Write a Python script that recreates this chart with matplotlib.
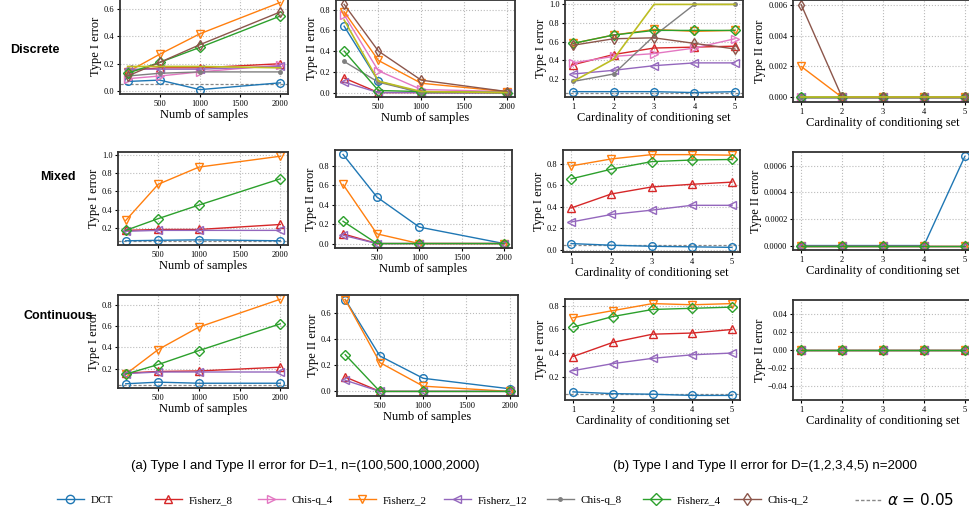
import numpy as np
import matplotlib
matplotlib.use("Agg")
import matplotlib.pyplot as plt
from matplotlib.lines import Line2D
from matplotlib.ticker import MultipleLocator

plt.rcParams['font.family'] = ['Liberation Serif', 'DejaVu Serif']
plt.rcParams['mathtext.fontset'] = 'dejavusans'

# x values
n_samples = [100, 500, 1000, 2000]
card = [1, 2, 3, 4, 5]
alpha = 0.05

# Discrete, vs number of samples
disc_t1_n = {
    'DCT':        [0.07, 0.08, 0.01, 0.06],
    'Fisherz_8':  [0.15, 0.17, 0.17, 0.20],
    'Chis-q_4':   [0.09, 0.11, 0.14, 0.19],
    'Fisherz_2':  [0.14, 0.27, 0.42, 0.65],
    'Fisherz_12': [0.16, 0.16, 0.16, 0.18],
    'Chis-q_8':   [0.11, 0.13, 0.14, 0.14],
    'Fisherz_4':  [0.13, 0.21, 0.32, 0.55],
    'Chis-q_2':   [0.11, 0.21, 0.34, 0.58],
    '_extra':     [0.18, 0.18, 0.18, 0.17],
}
disc_t2_n = {
    'DCT':        [0.64, 0.11, 0.00, 0.00],
    'Fisherz_8':  [0.14, 0.00, 0.00, 0.00],
    'Chis-q_4':   [0.75, 0.21, 0.03, 0.01],
    'Fisherz_2':  [0.78, 0.31, 0.09, 0.01],
    'Fisherz_12': [0.10, 0.00, 0.00, 0.00],
    'Chis-q_8':   [0.30, 0.10, 0.00, 0.00],
    'Fisherz_4':  [0.40, 0.02, 0.01, 0.00],
    'Chis-q_2':   [0.85, 0.40, 0.12, 0.01],
    '_extra':     [0.70, 0.11, 0.01, 0.00],
}
# Discrete, vs cardinality
disc_t1_c = {
    'DCT':        [0.06, 0.06, 0.06, 0.05, 0.06],
    'Fisherz_8':  [0.35, 0.46, 0.53, 0.54, 0.55],
    'Chis-q_4':   [0.37, 0.44, 0.47, 0.53, 0.63],
    'Fisherz_2':  [0.58, 0.67, 0.73, 0.71, 0.72],
    'Fisherz_12': [0.25, 0.29, 0.34, 0.37, 0.37],
    'Chis-q_8':   [0.17, 0.25, 0.66, 1.00, 1.00],
    'Fisherz_4':  [0.58, 0.67, 0.72, 0.72, 0.72],
    'Chis-q_2':   [0.56, 0.63, 0.64, 0.58, 0.52],
    '_extra':     [0.17, 0.41, 1.00, 1.00, 1.00],
}
disc_t2_c = {
    'DCT':        [0, 0, 0, 0, 0],
    'Fisherz_8':  [0, 0, 0, 0, 0],
    'Chis-q_4':   [0, 0, 0, 0, 0],
    'Fisherz_2':  [0.002, 0, 0, 0, 0],
    'Fisherz_12': [0, 0, 0, 0, 0],
    'Chis-q_8':   [0, 0, 0, 0, 0],
    'Fisherz_4':  [0, 0, 0, 0, 0],
    'Chis-q_2':   [0.006, 0, 0, 0, 0],
    '_extra':     [0, 0, 0, 0, 0],
}

# Mixed
mix_t1_n = {
    'DCT':        [0.055, 0.06, 0.065, 0.055],
    'Fisherz_8':  [0.17, 0.18, 0.18, 0.235],
    'Fisherz_2':  [0.28, 0.68, 0.87, 0.99],
    'Fisherz_12': [0.16, 0.17, 0.17, 0.17],
    'Fisherz_4':  [0.17, 0.30, 0.45, 0.74],
}
mix_t2_n = {
    'DCT':        [0.92, 0.48, 0.17, 0.00],
    'Fisherz_8':  [0.10, 0.00, 0.00, 0.00],
    'Fisherz_2':  [0.61, 0.10, 0.00, 0.00],
    'Fisherz_12': [0.085, 0.00, 0.00, 0.00],
    'Fisherz_4':  [0.23, 0.00, 0.00, 0.00],
}
mix_t1_c = {
    'DCT':        [0.06, 0.045, 0.035, 0.03, 0.025],
    'Fisherz_8':  [0.39, 0.52, 0.585, 0.61, 0.63],
    'Fisherz_2':  [0.78, 0.845, 0.885, 0.885, 0.88],
    'Fisherz_12': [0.26, 0.33, 0.37, 0.415, 0.415],
    'Fisherz_4':  [0.66, 0.75, 0.82, 0.835, 0.84],
}
mix_t2_c = {
    'DCT':        [0, 0, 0, 0, 0.00067],
    'Fisherz_8':  [0, 0, 0, 0, 0],
    'Fisherz_2':  [0, 0, 0, 0, 0],
    'Fisherz_12': [0, 0, 0, 0, 0],
    'Fisherz_4':  [0, 0, 0, 0, 0],
}

# Continuous
cont_t1_n = {
    'DCT':        [0.06, 0.075, 0.065, 0.065],
    'Fisherz_8':  [0.16, 0.175, 0.18, 0.215],
    'Fisherz_2':  [0.15, 0.38, 0.59, 0.85],
    'Fisherz_12': [0.155, 0.17, 0.17, 0.17],
    'Fisherz_4':  [0.15, 0.24, 0.37, 0.62],
}
cont_t2_n = {
    'DCT':        [0.70, 0.27, 0.10, 0.02],
    'Fisherz_8':  [0.11, 0.00, 0.00, 0.00],
    'Fisherz_2':  [0.70, 0.22, 0.04, 0.00],
    'Fisherz_12': [0.085, 0.00, 0.00, 0.00],
    'Fisherz_4':  [0.28, 0.00, 0.00, 0.00],
}
cont_t1_c = {
    'DCT':        [0.07, 0.055, 0.05, 0.04, 0.04],
    'Fisherz_8':  [0.37, 0.49, 0.56, 0.57, 0.60],
    'Fisherz_2':  [0.70, 0.76, 0.82, 0.81, 0.82],
    'Fisherz_12': [0.25, 0.31, 0.355, 0.385, 0.40],
    'Fisherz_4':  [0.62, 0.71, 0.77, 0.78, 0.79],
}
cont_t2_c = {
    'DCT':        [0, 0, 0, 0, 0],
    'Fisherz_8':  [0, 0, 0, 0, 0],
    'Fisherz_2':  [0, 0, 0, 0, 0],
    'Fisherz_12': [0, 0, 0, 0, 0],
    'Fisherz_4':  [0, 0, 0, 0, 0],
}

legend_order = ['DCT', 'Fisherz_8', 'Chis-q_4', 'Fisherz_2', 'Fisherz_12',
                'Chis-q_8', 'Fisherz_4', 'Chis-q_2']

# colour / marker per method
style = {
    'DCT':        ('tab:blue', 'o'),
    'Fisherz_8':  ('tab:red', '^'),
    'Chis-q_4':   ('tab:pink', '>'),
    'Fisherz_2':  ('tab:orange', 'v'),
    'Fisherz_12': ('tab:purple', '<'),
    'Chis-q_8':   ('tab:gray', '.'),
    'Fisherz_4':  ('tab:green', 'D'),
    'Chis-q_2':   ('tab:brown', 'd'),
    '_extra':     ('tab:olive', None),
}

W, H = 970, 516
fig = plt.figure(figsize=(W / 100, H / 100), dpi=100)


def ax_at(l, t, r, b):
    return fig.add_axes([l / W, 1 - b / H, (r - l) / W, (b - t) / H])


def draw(ax, x, data, ylabel, xlabel, type1, small):
    for name, vals in data.items():
        c, m = style[name]
        if m is None:
            ax.plot(x, vals, color=c, lw=1.2)
        elif m == '.':
            ax.plot(x, vals, color=c, marker='.', ms=5, lw=1)
        else:
            ax.plot(x, vals, color=c, marker=m, ms=5 if m in 'Dd' else 5.5,
                    mfc='none', mew=1, lw=1)
    if type1:
        ax.axhline(alpha, color='#888888', ls=(0, (2.5, 1.5)), lw=0.9, zorder=0)
    ax.set_ylabel(ylabel, fontsize=9, labelpad=1.5)
    ax.set_xlabel(xlabel, fontsize=9, labelpad=1)
    ax.grid(True, ls=':', color='#bbbbbb', lw=0.8)
    ax.set_axisbelow(True)
    for s in ax.spines.values():
        s.set_linewidth(1.3)
        s.set_color('#333333')
    ax.tick_params(labelsize=6, length=2.5, width=0.8, pad=1.5)
    if not small:
        ax.yaxis.set_major_locator(MultipleLocator(0.2))
    if x == card:
        ax.set_xticks(card)
    else:
        ax.set_xticks([500, 1000, 1500, 2000])


rows = [
    (disc_t1_n, disc_t2_n, disc_t1_c, disc_t2_c),
    (mix_t1_n, mix_t2_n, mix_t1_c, mix_t2_c),
    (cont_t1_n, cont_t2_n, cont_t1_c, cont_t2_c),
]
boxes = [
    [(120, -2, 288, 94), (336, 0, 515, 97), (565, 0, 743, 97), (793, 0, 973, 102)],
    [(118, 152, 288, 245), (335, 150, 512, 248), (563, 150, 740, 252), (793, 152, 973, 250)],
    [(118, 295, 288, 388), (337, 295, 518, 396), (565, 299, 740, 400), (793, 300, 973, 400)],
]
for row, bx in zip(rows, boxes):
    draw(ax_at(*bx[0]), n_samples, row[0], 'Type I error', 'Numb of samples', True, False)
    draw(ax_at(*bx[1]), n_samples, row[1], 'Type II error', 'Numb of samples', False, False)
    draw(ax_at(*bx[2]), card, row[2], 'Type I error', 'Cardinality of conditioning set', True, False)
    draw(ax_at(*bx[3]), card, row[3], 'Type II error', 'Cardinality of conditioning set', False, True)

# row labels
for txt, x, y in [('Discrete', 10, 50), ('Mixed', 40, 177), ('Continuous', 24, 316)]:
    fig.text(x / W, 1 - y / H, txt, family='Liberation Sans', weight='bold',
             fontsize=9, ha='left', va='center')

# captions
fig.text(305 / W, 1 - 466 / H,
         '(a) Type I and Type II error for D=1, n=(100,500,1000,2000)',
         family='Liberation Sans', fontsize=9.5, ha='center', va='center')
fig.text(765 / W, 1 - 466 / H,
         '(b) Type I and Type II error for D=(1,2,3,4,5) n=2000',
         family='Liberation Sans', fontsize=9.5, ha='center', va='center')

# legend: one small legend per entry, placed along the bottom
leg_x = [57, 155, 258, 349, 444, 547, 643, 734]
for name, lx in zip(legend_order, leg_x):
    c, m = style[name]
    if m == '.':
        h = Line2D([], [], color=c, marker='.', ms=5, lw=1, label=name)
    else:
        h = Line2D([], [], color=c, marker=m, ms=6, mfc='none', mew=1, lw=1, label=name)
    fig.legend(handles=[h], loc='center left', bbox_to_anchor=(lx / W, 1 - 500 / H),
               frameon=False, fontsize=8, handlelength=2.4, handletextpad=0.6,
               borderaxespad=0, borderpad=0)
ha = Line2D([], [], color='#888888', ls=(0, (2.5, 1.5)), lw=1, label=r'$\alpha$ = 0.05')
leg = fig.legend(handles=[ha], loc='center left', bbox_to_anchor=(855 / W, 1 - 500 / H),
                 frameon=False, fontsize=11, handlelength=1.8, handletextpad=0.3,
                 borderaxespad=0, borderpad=0)
leg.get_texts()[0].set_family('DejaVu Sans')

fig.savefig('out.png', dpi=100)
